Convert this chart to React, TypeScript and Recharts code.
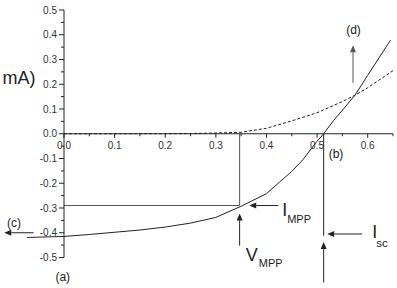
import React from 'react';
import {
  ComposedChart,
  Line,
  XAxis,
  YAxis,
  ReferenceLine,
  ReferenceDot,
} from 'recharts';

// illuminated curve (solid)
const lightVoltage = [0, 0.05, 0.1, 0.15, 0.2, 0.25, 0.3, 0.35, 0.4, 0.45, 0.472, 0.5, 0.513, 0.532, 0.55, 0.575, 0.6, 0.645];
const lightCurrent = [-0.415, -0.407, -0.398, -0.389, -0.377, -0.361, -0.338, -0.293, -0.242, -0.152, -0.105, -0.03, 0, 0.052, 0.095, 0.156, 0.236, 0.378];
// part of the solid curve left of the y axis
const tailVoltage = [-0.073, 0];
const tailCurrent = [-0.419, -0.415];

// dark curve (dashed)
const darkVoltage = [0, 0.1, 0.2, 0.25, 0.3, 0.35, 0.4, 0.45, 0.5, 0.55, 0.575, 0.6, 0.65];
const darkCurrent = [0, 0, 0.0005, 0.001, 0.003, 0.006, 0.022, 0.052, 0.085, 0.13, 0.156, 0.186, 0.255];

const xTicks = [0, 0.05, 0.1, 0.15, 0.2, 0.25, 0.3, 0.35, 0.4, 0.45, 0.5, 0.55, 0.6, 0.65];
const yTicks = [
  -0.5, -0.45, -0.4, -0.35, -0.3, -0.25, -0.2, -0.15, -0.1, -0.05, 0,
  0.05, 0.1, 0.15, 0.2, 0.25, 0.3, 0.35, 0.4, 0.45, 0.5,
];

const vMpp = 0.347;
const iMpp = -0.29;
const vOc = 0.513;

const lightData = lightVoltage.map((v, i) => ({ v, i: lightCurrent[i] }));
const darkData = darkVoltage.map((v, i) => ({ v, i: darkCurrent[i] }));

const FONT = 'Liberation Sans, Arial, sans-serif';
const INK = '#222';
const GUIDE = '#555';

const isMajor = (v: number) => Math.abs(Math.round(v * 20)) % 2 === 0;

const YTick = (props: any) => {
  const { x, y, payload } = props;
  const v = payload.value as number;
  const major = isMajor(v);
  return (
    <g>
      <line x1={x - (major ? 5 : 3)} y1={y} x2={x} y2={y} stroke={INK} strokeWidth={1} />
      {major && (
        <text x={x - 7} y={y + 3.5} textAnchor="end" fontSize={10} fill="#333" fontFamily={FONT}>
          {v.toFixed(1)}
        </text>
      )}
    </g>
  );
};

const xTickShape = (v: number) => (p: any) => {
  const major = isMajor(v);
  return (
    <g>
      <line x1={p.cx} y1={p.cy} x2={p.cx} y2={p.cy + (major ? 4 : 2.5)} stroke={INK} strokeWidth={1} />
      {major && v < 0.65 && (
        <text x={p.cx} y={p.cy + 15} textAnchor="middle" fontSize={10} fill="#333" fontFamily={FONT}>
          {v.toFixed(1)}
        </text>
      )}
    </g>
  );
};

const arrowShape = (color: string) => (p: any) => {
  const { x1, y1, x2, y2 } = p;
  const dx = x2 - x1;
  const dy = y2 - y1;
  const len = Math.hypot(dx, dy) || 1;
  const ux = dx / len;
  const uy = dy / len;
  const hl = 7;
  const hw = 3;
  const bx = x2 - ux * hl;
  const by = y2 - uy * hl;
  return (
    <g>
      <line x1={x1} y1={y1} x2={bx} y2={by} stroke={color} strokeWidth={1} />
      <polygon
        points={`${x2},${y2} ${bx - uy * hw},${by + ux * hw} ${bx + uy * hw},${by - ux * hw}`}
        fill={color}
      />
    </g>
  );
};

const textShape = (
  main: string,
  sub: string,
  opts: { size: number; subSize?: number; anchor?: 'start' | 'middle' | 'end'; dx?: number; dy?: number }
) => (p: any) => (
  <text x={p.cx} y={p.cy} textAnchor={opts.anchor || 'start'} fontFamily={FONT} fill={INK} fontSize={opts.size}>
    {main}
    {sub && (
      <tspan fontSize={opts.subSize || 11} dx={opts.dx || 0} dy={opts.dy || 0}>
        {sub}
      </tspan>
    )}
  </text>
);

export default function App() {
  return (
    <div style={{ position: 'absolute', left: 0, top: 0, width: 397, height: 288, background: '#fff' }}>
      <ComposedChart width={397} height={288} margin={{ top: 10, right: 4, bottom: 30.5, left: 0 }}>
        <XAxis type="number" dataKey="v" domain={[0, 0.65]} allowDataOverflow hide />
        <YAxis
          type="number"
          domain={[-0.5, 0.5]}
          ticks={yTicks}
          interval={0}
          width={64}
          tickSize={0}
          tickMargin={0}
          tickLine={false}
          axisLine={{ stroke: INK }}
          tick={<YTick />}
          allowDataOverflow
        />

        {/* x axis drawn through y = 0 */}
        <ReferenceLine segment={[{ x: 0, y: 0 }, { x: 0.65, y: 0 }]} stroke={INK} ifOverflow="visible" />
        {xTicks.map((v) => (
          <ReferenceDot key={v} x={v} y={0} r={0} ifOverflow="visible" shape={xTickShape(v)} />
        ))}

        {/* guide lines */}
        <ReferenceLine segment={[{ x: 0, y: iMpp }, { x: vMpp, y: iMpp }]} stroke={GUIDE} ifOverflow="visible" />
        <ReferenceLine segment={[{ x: vMpp, y: 0 }, { x: vMpp, y: iMpp }]} stroke={GUIDE} ifOverflow="visible" />
        <ReferenceLine segment={[{ x: vOc, y: 0 }, { x: vOc, y: -0.412 }]} stroke={INK} ifOverflow="visible" />

        {/* arrows */}
        <ReferenceLine segment={[{ x: 0.423, y: iMpp }, { x: 0.366, y: iMpp }]} ifOverflow="visible" shape={arrowShape(INK)} />
        <ReferenceLine segment={[{ x: vMpp, y: -0.452 }, { x: vMpp, y: -0.322 }]} ifOverflow="visible" shape={arrowShape(INK)} />
        <ReferenceLine segment={[{ x: 0.589, y: -0.405 }, { x: 0.52, y: -0.405 }]} ifOverflow="visible" shape={arrowShape(INK)} />
        <ReferenceLine segment={[{ x: vOc, y: -0.601 }, { x: vOc, y: -0.437 }]} ifOverflow="visible" shape={arrowShape(INK)} />
        <ReferenceLine segment={[{ x: 0.571, y: 0.206 }, { x: 0.571, y: 0.358 }]} ifOverflow="visible" shape={arrowShape(GUIDE)} />
        <ReferenceLine segment={[{ x: -0.06, y: -0.4 }, { x: -0.118, y: -0.4 }]} ifOverflow="visible" shape={arrowShape(INK)} />

        <ReferenceLine
          segment={[{ x: tailVoltage[0], y: tailCurrent[0] }, { x: tailVoltage[1], y: tailCurrent[1] }]}
          stroke={INK}
          ifOverflow="visible"
        />

        <Line
          data={darkData}
          dataKey="i"
          type="linear"
          stroke={INK}
          strokeWidth={1}
          strokeDasharray="3 2"
          dot={false}
          isAnimationActive={false}
        />
        <Line
          data={lightData}
          dataKey="i"
          type="linear"
          stroke={INK}
          strokeWidth={1}
          dot={false}
          isAnimationActive={false}
        />

        {/* labels */}
        <ReferenceDot x={-0.0565} y={0.202} r={0} ifOverflow="visible" shape={textShape('mA)', '', { size: 18, anchor: 'end' })} />
        <ReferenceDot x={0.572} y={0.404} r={0} ifOverflow="visible" shape={textShape('(d)', '', { size: 12, anchor: 'middle' })} />
        <ReferenceDot x={0.523} y={-0.097} r={0} ifOverflow="visible" shape={textShape('(b)', '', { size: 12 })} />
        <ReferenceDot x={-0.1125} y={-0.376} r={0} ifOverflow="visible" shape={textShape('(c)', '', { size: 12 })} />
        <ReferenceDot x={-0.017} y={-0.594} r={0} ifOverflow="visible" shape={textShape('(a)', '', { size: 12 })} />
        <ReferenceDot x={0.431} y={-0.334} r={0} ifOverflow="visible" shape={textShape('I', 'MPP', { size: 18, subSize: 11, dx: 0, dy: 6.5 })} />
        <ReferenceDot x={0.3592} y={-0.516} r={0} ifOverflow="visible" shape={textShape('V', 'MPP', { size: 18, subSize: 11, dx: 1, dy: 5.3 })} />
        <ReferenceDot x={0.609} y={-0.423} r={0} ifOverflow="visible" shape={textShape('I', 'sc', { size: 18, subSize: 11.5, dx: -1, dy: 8.3 })} />
      </ComposedChart>
    </div>
  );
}
